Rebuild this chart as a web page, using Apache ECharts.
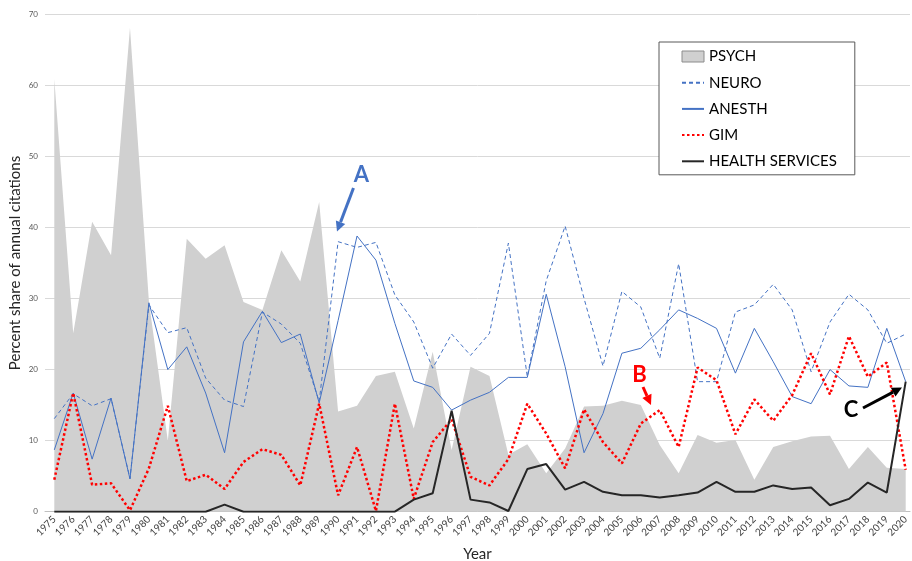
<!DOCTYPE html>
<html>
<head>
<meta charset="utf-8">
<script src="https://cdn.jsdelivr.net/npm/echarts@6/dist/echarts.min.js"></script>
<style>
  html, body { margin: 0; padding: 0; background: #fff; }
  #main { width: 912px; height: 561px; }
</style>
</head>
<body>
<div id="main"></div>
<script>
  // data (percent share per year)
  var years = ['1975','1976','1977','1978','1979','1980','1981','1982','1983','1984',
               '1985','1986','1987','1988','1989','1990','1991','1992','1993','1994',
               '1995','1996','1997','1998','1999','2000','2001','2002','2003','2004',
               '2005','2006','2007','2008','2009','2010','2011','2012','2013','2014',
               '2015','2016','2017','2018','2019','2020'];
  var psych = [60.9, 25.1, 40.8, 36.1, 68.1, 29.6, 10.0, 38.4, 35.6, 37.5,
               29.5, 28.4, 36.8, 32.4, 43.6, 14.1, 14.9, 19.1, 19.7, 11.7,
               22.5, 8.7, 20.4, 19.1, 8.0, 9.5, 5.4, 8.9, 14.8, 14.9,
               15.6, 15.0, 9.4, 5.4, 10.8, 9.7, 10.1, 4.5, 9.1, 9.9,
               10.6, 10.7, 6.0, 9.1, 6.2, 6.0];
  var neuro = [13.1, 16.6, 14.9, 15.9, 4.7, 29.1, 25.2, 25.9, 18.8, 15.7,
               14.8, 28.1, 26.4, 23.7, 15.5, 38.0, 37.2, 37.9, 30.5, 26.7,
               20.2, 25.0, 22.0, 25.1, 37.8, 19.0, 32.5, 40.2, 30.0, 20.5,
               31.0, 28.8, 21.6, 34.9, 18.3, 18.3, 28.1, 29.1, 32.0, 28.4,
               19.7, 26.7, 30.6, 28.4, 23.7, 25.0];
  var anesth = [8.7, 16.7, 7.4, 16.0, 4.6, 29.4, 20.0, 23.2, 16.7, 8.3,
                23.9, 28.2, 23.8, 25.0, 15.3, 26.9, 38.8, 35.4, 26.5, 18.4,
                17.5, 14.3, 15.7, 16.8, 18.9, 18.9, 30.6, 20.4, 8.3, 13.8,
                22.3, 23.0, 25.6, 28.4, 27.2, 25.8, 19.5, 25.8, 21.1, 16.2,
                15.2, 20.0, 17.7, 17.5, 25.8, 18.3];
  var gim = [4.5, 16.7, 3.8, 4.0, 0.2, 6.1, 14.9, 4.3, 5.2, 3.2,
             7.0, 8.8, 8.0, 3.7, 15.2, 2.3, 9.1, 0.1, 15.2, 1.8,
             9.8, 13.0, 4.9, 3.7, 7.4, 15.2, 11.0, 6.1, 14.4, 9.8,
             6.8, 12.4, 14.3, 9.1, 20.3, 18.5, 10.9, 15.8, 12.8, 16.4,
             22.3, 16.5, 24.7, 19.0, 21.0, 5.9];
  var health = [0, 0, 0, 0, 0, 0, 0, 0, 0, 1.0,
                0, 0, 0, 0, 0, 0, 0, 0, 0, 1.7,
                2.6, 14.2, 1.7, 1.3, 0.1, 6.0, 6.7, 3.1, 4.2, 2.8,
                2.3, 2.3, 2.0, 2.3, 2.7, 4.2, 2.8, 2.8, 3.7, 3.2,
                3.4, 0.9, 1.8, 4.1, 2.7, 18.3];
  var yTicks = { min: 0, max: 70, step: 10 };

  var font = 'Lato, "Liberation Sans", sans-serif';
  var blue = '#4472c4';

  // simple arrow for the A/B/C callouts
  function arrow(x1, y1, x2, y2, color) {
    var a = Math.atan2(y2 - y1, x2 - x1);
    var len = 10, half = 5;
    var bx = x2 - len * Math.cos(a), by = y2 - len * Math.sin(a);
    var px = -Math.sin(a) * half, py = Math.cos(a) * half;
    return [
      { type: 'line', shape: { x1: x1, y1: y1, x2: bx, y2: by },
        style: { stroke: color, lineWidth: 3 }, z: 100 },
      { type: 'polygon', shape: { points: [[x2, y2], [bx + px, by + py], [bx - px, by - py]] },
        style: { fill: color }, z: 100 }
    ];
  }

  function label(text, x, y, color) {
    return { type: 'text', x: x, y: y, z: 100,
      style: { text: text, fill: color, font: 'bold 22px ' + font, textAlign: 'center', textVerticalAlign: 'middle' } };
  }

  var myChart = echarts.init(document.getElementById('main'));

  var hideSymbol = { opacity: 0 };

  var option = {
    backgroundColor: '#fff',
    animation: false,
    textStyle: { fontFamily: font },
    grid: [
      { left: 54.3, right: 6.3, top: 14.3, bottom: 49.3, outerBoundsMode: 'none' },   // data
      { left: 45, right: 2, top: 14.3, bottom: 49.3, outerBoundsMode: 'none' }        // grid lines, y labels
    ],
    xAxis: [
      {
        type: 'category', gridIndex: 0, data: years, boundaryGap: false,
        axisLine: { show: false }, axisTick: { show: false },
        axisLabel: { rotate: 45, interval: 0, fontSize: 10, color: '#404040', margin: 6, fontFamily: font }
      },
      {
        type: 'value', gridIndex: 1, min: 0, max: 1,
        axisLine: { show: true, lineStyle: { color: '#bfbfbf', width: 1 } },
        axisTick: { show: false }, axisLabel: { show: false }, splitLine: { show: false },
        name: 'Year', nameLocation: 'middle', nameGap: 35,
        nameTextStyle: { fontSize: 15, color: '#262626', fontFamily: font }
      }
    ],
    yAxis: [
      {
        type: 'value', gridIndex: 0, min: yTicks.min, max: yTicks.max, interval: yTicks.step,
        axisLine: { show: false }, axisTick: { show: false }, axisLabel: { show: false },
        splitLine: { show: false }
      },
      {
        type: 'value', gridIndex: 1, min: yTicks.min, max: yTicks.max, interval: yTicks.step,
        axisLine: { show: false }, axisTick: { show: false },
        axisLabel: { fontSize: 8, color: '#595959', margin: 7, fontFamily: font },
        splitLine: { show: true, lineStyle: { color: '#d9d9d9', width: 1 } },
        name: 'Percent share of annual citations', nameLocation: 'middle', nameGap: 22,
        nameMoveOverlap: false,
        nameTextStyle: { fontSize: 15, color: '#262626', fontFamily: font }
      }
    ],
    legend: {
      orient: 'vertical', left: 659, top: 42,
      padding: [7, 18, 6, 22],
      itemWidth: 22, itemHeight: 11, itemGap: 11.2,
      borderColor: '#595959', borderWidth: 1, backgroundColor: '#fff',
      textStyle: { fontSize: 15, color: '#000', fontFamily: font },
      data: [
        { name: 'PSYCH', icon: 'rect', itemStyle: { color: '#d0d0d0', borderColor: '#8c8c8c', borderWidth: 1 } },
        { name: 'NEURO', itemStyle: hideSymbol },
        { name: 'ANESTH', itemStyle: hideSymbol },
        { name: 'GIM', itemStyle: hideSymbol },
        { name: 'HEALTH SERVICES', itemStyle: hideSymbol }
      ]
    },
    series: [
      {
        name: 'PSYCH', type: 'line', data: psych, symbol: 'none',
        lineStyle: { width: 0, color: '#d0d0d0' },
        itemStyle: { color: '#d0d0d0' },
        areaStyle: { color: '#d0d0d0', opacity: 1 }
      },
      {
        name: 'NEURO', type: 'line', data: neuro, symbol: 'none',
        itemStyle: { color: blue },
        lineStyle: { color: blue, width: 1, type: [4, 3] }
      },
      {
        name: 'ANESTH', type: 'line', data: anesth, symbol: 'none',
        itemStyle: { color: blue },
        lineStyle: { color: blue, width: 1 }
      },
      {
        name: 'GIM', type: 'line', data: gim, symbol: 'none',
        itemStyle: { color: '#ff0000' },
        lineStyle: { color: '#ff0000', width: 2.5, type: [2.5, 2.5] }
      },
      {
        name: 'HEALTH SERVICES', type: 'line', data: health, symbol: 'none',
        itemStyle: { color: '#262626' },
        lineStyle: { color: '#262626', width: 2 }
      }
    ],
    graphic: [].concat(
      [label('A', 361.5, 175, blue)],
      arrow(353.5, 188, 337, 231.5, blue),
      [label('B', 639.5, 375, '#ff0000')],
      arrow(643, 387, 651, 405, '#ff0000'),
      [label('C', 851, 409.5, '#000')],
      arrow(863, 408, 902, 387.5, '#000')
    )
  };

  myChart.setOption(option, true);
</script>
</body>
</html>
